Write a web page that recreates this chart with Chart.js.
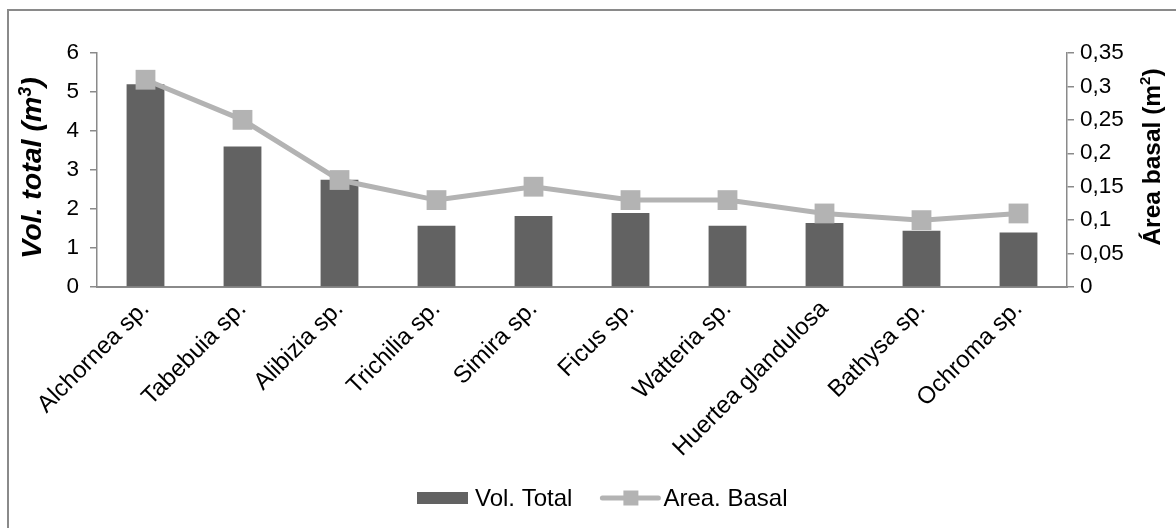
<!DOCTYPE html>
<html>
<head>
<meta charset="utf-8">
<script src="https://cdn.jsdelivr.net/npm/chart.js@4.4.1/dist/chart.umd.min.js"></script>
<style>
  html, body { margin: 0; padding: 0; background: #ffffff; }
  #wrap { width: 1176px; height: 528px; }
</style>
</head>
<body>
<div id="wrap"><canvas id="c" width="1176" height="528"></canvas></div>
<script>
// Species sampled
const species = ['Alchornea sp.', 'Tabebuia sp.', 'Alibizia sp.', 'Trichilia sp.', 'Simira sp.',
                 'Ficus sp.', 'Watteria sp.', 'Huertea glandulosa', 'Bathysa sp.', 'Ochroma sp.'];
// Total volume (m3) per species
const volTotal = [5.2, 3.6, 2.75, 1.57, 1.82, 1.9, 1.57, 1.64, 1.44, 1.4];
// Basal area (m2) per species
const areaBasal = [0.31, 0.25, 0.16, 0.13, 0.15, 0.13, 0.13, 0.11, 0.10, 0.11];
// Axis ticks
const volTicks = [0, 1, 2, 3, 4, 5, 6];
const volTickLabels = ['0', '1', '2', '3', '4', '5', '6'];
const areaTicks = [0, 0.05, 0.1, 0.15, 0.2, 0.25, 0.3, 0.35];
const areaTickLabels = ['0', '0,05', '0,1', '0,15', '0,2', '0,25', '0,3', '0,35'];

const FONT = "'Liberation Sans', Arial, sans-serif";
const AXIS_GREY = '#8a8a8a';
const BAR_GREY = '#626262';
const LINE_GREY = '#b3b3b3';

Chart.defaults.font.family = FONT;
Chart.defaults.color = '#000000';

// Rotated title with a superscript, centred on (cx, cy), reading bottom to top
function drawVerticalTitle(ctx, cx, cy, font, supFont, before, sup, after) {
  ctx.save();
  ctx.translate(cx, cy);
  ctx.rotate(-Math.PI / 2);
  ctx.textBaseline = 'alphabetic';
  ctx.textAlign = 'left';
  ctx.font = font;
  const w1 = ctx.measureText(before).width;
  const w3 = ctx.measureText(after).width;
  ctx.font = supFont;
  const w2 = ctx.measureText(sup).width;
  const total = w1 + w2 + w3;
  let x = -total / 2;
  const base = 8;
  ctx.font = font;
  ctx.fillText(before, x, base);
  x += w1;
  ctx.font = supFont;
  ctx.fillText(sup, x, base - 10);
  x += w2;
  ctx.font = font;
  ctx.fillText(after, x, base);
  ctx.restore();
}

// Frame, axis titles and legend drawn on the canvas
const decorations = {
  id: 'decorations',
  beforeDraw(chart) {
    const ctx = chart.ctx;
    ctx.save();
    ctx.fillStyle = '#ffffff';
    ctx.fillRect(0, 0, chart.width, chart.height);
    ctx.strokeStyle = AXIS_GREY;
    ctx.lineWidth = 2;
    ctx.strokeRect(8, 10, chart.width + 20, chart.height + 20);
    ctx.restore();
  },
  afterDraw(chart) {
    const ctx = chart.ctx;
    const yL = chart.scales.y;
    ctx.save();
    ctx.fillStyle = '#000000';

    // axis titles
    drawVerticalTitle(ctx, 33, (yL.top + yL.bottom) / 2 - 2,
      'italic bold 28.5px ' + FONT, 'italic bold 18px ' + FONT, 'Vol. total (m', '3', ')');
    drawVerticalTitle(ctx, 1152, 157,
      'bold 24.5px ' + FONT, 'bold 15px ' + FONT, 'Área basal (m', '2', ')');

    // legend
    const ly = 498;
    let lx = 417;
    ctx.font = '24px ' + FONT;
    ctx.textAlign = 'left';
    ctx.textBaseline = 'middle';
    const barDs = chart.data.datasets[1];
    const lineDs = chart.data.datasets[0];
    ctx.fillStyle = barDs.backgroundColor;
    ctx.fillRect(lx, ly - 6, 51, 12);
    lx += 58;
    ctx.fillStyle = '#000000';
    ctx.fillText(barDs.label, lx, ly + 1);
    lx += ctx.measureText(barDs.label).width + 30;
    ctx.strokeStyle = lineDs.borderColor;
    ctx.lineWidth = 5;
    ctx.lineCap = 'round';
    ctx.beginPath();
    ctx.moveTo(lx, ly);
    ctx.lineTo(lx + 56, ly);
    ctx.stroke();
    ctx.fillStyle = lineDs.pointBackgroundColor;
    ctx.fillRect(lx + 21, ly - 7.5, 15, 15);
    lx += 61;
    ctx.fillStyle = '#000000';
    ctx.fillText(lineDs.label, lx, ly + 1);
    ctx.restore();
  }
};

new Chart(document.getElementById('c'), {
  type: 'bar',
  data: {
    labels: species,
    datasets: [
      {
        type: 'line',
        label: 'Area. Basal',
        data: areaBasal,
        yAxisID: 'y1',
        order: 0,
        borderColor: LINE_GREY,
        borderWidth: 5,
        tension: 0,
        pointStyle: 'rect',
        pointRadius: 14,
        pointBackgroundColor: LINE_GREY,
        pointBorderColor: LINE_GREY,
        pointBorderWidth: 0
      },
      {
        type: 'bar',
        label: 'Vol. Total',
        data: volTotal,
        yAxisID: 'y',
        order: 1,
        backgroundColor: BAR_GREY,
        borderWidth: 0,
        barPercentage: 0.39,
        categoryPercentage: 1
      }
    ]
  },
  options: {
    responsive: false,
    animation: false,
    devicePixelRatio: 1,
    layout: { padding: { left: 10, right: 0, top: 53, bottom: 0 } },
    plugins: {
      legend: { display: false },
      tooltip: { enabled: false }
    },
    scales: {
      x: {
        grid: { display: false, drawTicks: false },
        border: { color: AXIS_GREY, width: 2 },
        ticks: {
          autoSkip: false,
          minRotation: 45,
          maxRotation: 45,
          padding: 8,
          color: '#000000',
          font: { size: 24 }
        },
        afterFit(s) { s.height = 241; }
      },
      y: {
        position: 'left',
        min: 0,
        max: 6,
        afterBuildTicks(s) { s.ticks = volTicks.map(v => ({ value: v })); },
        grid: { drawOnChartArea: false, drawTicks: true, tickLength: 7, color: AXIS_GREY, lineWidth: 1.5 },
        border: { color: AXIS_GREY, width: 1.5 },
        ticks: {
          padding: 11,
          color: '#000000',
          font: { size: 22.5 },
          callback: (v) => volTickLabels[volTicks.indexOf(v)]
        },
        afterFit(s) { s.width = 87; }
      },
      y1: {
        position: 'right',
        min: 0,
        max: 0.35,
        afterBuildTicks(s) { s.ticks = areaTicks.map(v => ({ value: v })); },
        grid: { drawOnChartArea: false, drawTicks: true, tickLength: 7, color: AXIS_GREY, lineWidth: 1.5 },
        border: { color: AXIS_GREY, width: 1.5 },
        ticks: {
          padding: 6,
          color: '#000000',
          font: { size: 22.5 },
          callback: (v) => areaTickLabels[areaTicks.indexOf(v)]
        },
        afterFit(s) { s.width = 109; }
      }
    }
  },
  plugins: [decorations]
});
</script>
</body>
</html>
